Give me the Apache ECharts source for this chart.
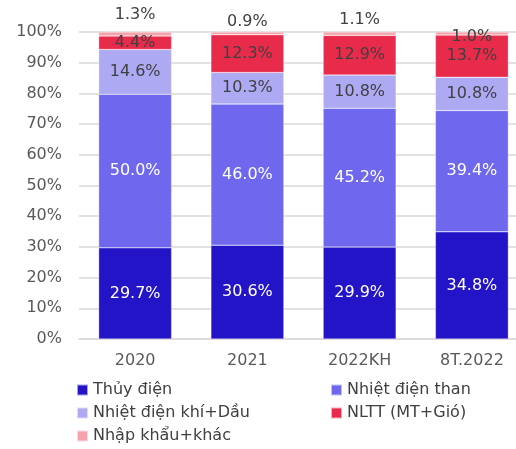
<!DOCTYPE html>
<html>
<head>
<meta charset="utf-8">
<script src="https://cdn.jsdelivr.net/npm/echarts@6/dist/echarts.min.js"></script>
<style>
  html, body { margin: 0; padding: 0; background: #fff; }
  #chart { width: 516px; height: 449px; }
</style>
</head>
<body>
<div id="chart"></div>
<script>
const categories = ['2020', '2021', '2022KH', '8T.2022']
const seriesNames = ['Thủy điện', 'Nhiệt điện than', 'Nhiệt điện khí+Dầu', 'NLTT (MT+Gió)', 'Nhập khẩu+khác']
const thuyDien = [29.7, 30.6, 29.9, 34.8]
const nhietDienThan = [50.0, 46.0, 45.2, 39.4]
const nhietDienKhi = [14.6, 10.3, 10.8, 10.8]
const nltt = [4.4, 12.3, 12.9, 13.7]
const nhapKhau = [1.3, 0.9, 1.1, 1.0]
const yTicks = ['0%', '10%', '20%', '30%', '40%', '50%', '60%', '70%', '80%', '90%', '100%']

const allValues = [thuyDien, nhietDienThan, nhietDienKhi, nltt, nhapKhau]
const colors = ['#2314C8', '#6F67EE', '#ADA9F3', '#E92B4B', '#F4A3AC']
const labelColors = ['#fff', '#fff', '#404040', '#404040', '#404040']
// khoảng cách nhãn phía trên cột (Nhập khẩu+khác)
const topDist = [9, 2, 4, -13]
// vị trí chú giải [left, top]
const legendPos = [[76, 382], [330, 382], [76, 405], [330, 405], [76, 428]]

let font = 'DejaVu Sans'
let myChart = echarts.init(document.getElementById('chart'))

// 100% chồng: chuẩn hoá theo tổng từng cột, nhãn giữ giá trị gốc
let totals = categories.map((c, i) => allValues.reduce((s, arr) => s + arr[i], 0))

let series = allValues.map((arr, k) => {
  return {
    name: seriesNames[k],
    type: 'bar',
    stack: 'total',
    barWidth: '65%',
    itemStyle: {
      color: colors[k],
      borderColor: 'rgba(255,255,255,0.6)',
      borderWidth: 0.5
    },
    label: {
      show: true,
      position: 'inside',
      color: labelColors[k],
      fontFamily: font,
      fontSize: 16,
      formatter: p => arr[p.dataIndex].toFixed(1) + '%'
    },
    data: arr.map((v, i) => {
      let item = { value: v / totals[i] * 100 }
      if (k === 4) {
        item.label = { position: 'top', distance: topDist[i] }
      }
      return item
    })
  }
})

let legends = seriesNames.map((name, k) => {
  return {
    left: legendPos[k][0],
    top: legendPos[k][1],
    icon: 'rect',
    itemWidth: 11,
    itemHeight: 11,
    itemGap: 4,
    padding: 0,
    textStyle: { color: '#404040', fontFamily: font, fontSize: 16 },
    data: [name]
  }
})

let option = {
  animation: false,
  color: colors,
  grid: {
    left: 79,
    width: 449,
    top: 32,
    bottom: 110,
    containLabel: false,
    outerBoundsMode: 'none'
  },
  legend: legends,
  xAxis: {
    type: 'category',
    data: categories,
    axisTick: { show: false },
    axisLine: { lineStyle: { color: '#d9d9d9', width: 1.5 } },
    axisLabel: {
      color: '#595959',
      fontFamily: font,
      fontSize: 16,
      margin: 14
    }
  },
  yAxis: {
    type: 'value',
    min: 0,
    max: 100,
    interval: 10,
    axisLine: { show: false },
    axisTick: { show: false },
    splitLine: { lineStyle: { color: '#d9d9d9', width: 1.5 } },
    axisLabel: {
      color: '#595959',
      fontFamily: font,
      fontSize: 16,
      margin: 17,
      formatter: (v) => yTicks[Math.round(v / 10)]
    }
  },
  series: series
}
myChart.setOption(option)
</script>
</body>
</html>
